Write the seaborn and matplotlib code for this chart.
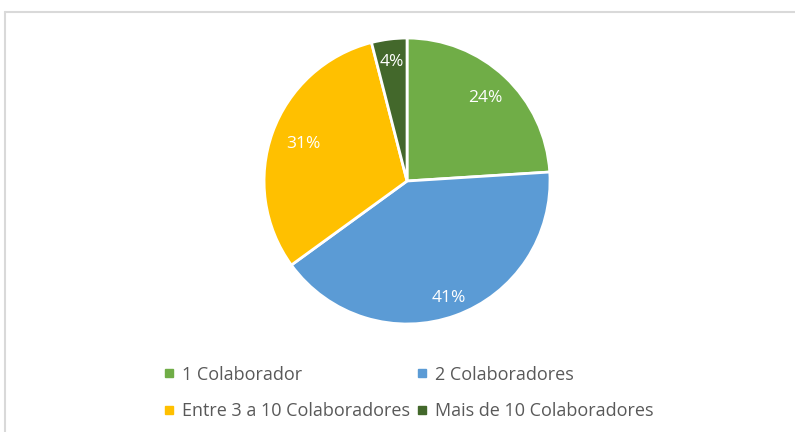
import matplotlib
matplotlib.use("Agg")
import matplotlib.pyplot as plt
import numpy as np
import seaborn as sns
from matplotlib.lines import Line2D

sns.set_theme(style="white")
plt.rcParams['font.family'] = ['Open Sans', 'DejaVu Sans']

categorias = ["1 Colaborador", "2 Colaboradores", "Entre 3 a 10 Colaboradores", "Mais de 10 Colaboradores"]
valores = [24, 41, 31, 4]
cores = ["#70AD47", "#5B9BD5", "#FFC000", "#43682B"]

fig = plt.figure(figsize=(7.95, 4.32), dpi=100)
ax = fig.add_axes([0.332, 0.25, 0.36, 0.662])

wedges, _, pcts = ax.pie(
    valores, colors=cores, startangle=90, counterclock=False,
    autopct="%1.0f%%", pctdistance=0.8,
    wedgeprops=dict(edgecolor="white", linewidth=2),
    textprops=dict(color="white", fontsize=12.5),
)
# distância dos rótulos ao centro, como no Excel (best fit)
dist = [0.8, 0.87, 0.77, 0.84]
for w, t, d in zip(wedges, pcts, dist):
    ang = np.deg2rad((w.theta1 + w.theta2) / 2)
    t.set_position((d * np.cos(ang), d * np.sin(ang)))

ax.set_xlim(-1, 1)
ax.set_ylim(-1, 1)
ax.set_aspect("equal")

# legenda na ordem das linhas (1, 2 / 3, 4)
ordem = [0, 2, 1, 3]
handles = [Line2D([], [], marker="s", linestyle="", markersize=6,
                  color=cores[i]) for i in ordem]
fig.legend(handles, [categorias[i] for i in ordem], ncol=2,
           loc="upper left", bbox_to_anchor=(0.195, 0.17),
           frameon=False, fontsize=13, labelcolor="#595959",
           handlelength=0.7, handletextpad=0.4, columnspacing=0.3,
           labelspacing=1.0, borderaxespad=0)

# moldura do gráfico
fig.add_artist(Line2D([5 / 795, 1], [1 - 12 / 432, 1 - 12 / 432], color="#D9D9D9", lw=1.5))
fig.add_artist(Line2D([5 / 795, 5 / 795], [0, 1 - 12 / 432], color="#D9D9D9", lw=1.5))

fig.savefig("out.png", dpi=100)
